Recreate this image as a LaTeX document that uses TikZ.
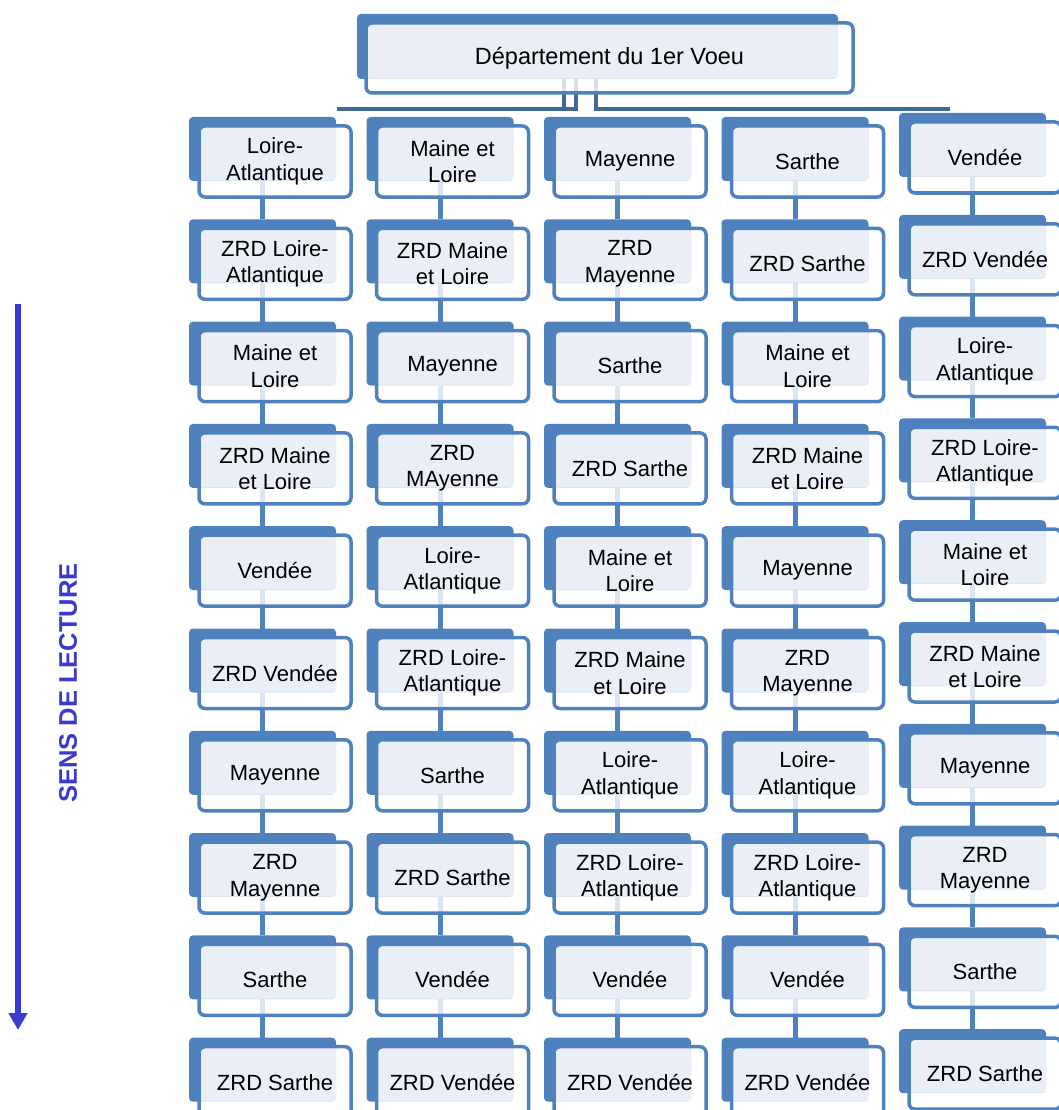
\documentclass[tikz,border=0pt]{standalone}
\usepackage{fontspec}
\setmainfont{Liberation Sans}
\usetikzlibrary{arrows.meta,backgrounds}
\definecolor{cacc}{RGB}{79,129,189}
\definecolor{ctint}{RGB}{150,175,215}
\definecolor{cbar}{RGB}{64,105,154}
\definecolor{cread}{RGB}{58,58,208}

% one department box: column, row, row pitch, text
\newcommand\deptcell[4]{%
  \pgfmathsetmacro\cellx{189+177.5*(#1-1)}%
  \pgfmathsetmacro\celly{(#1==5 ? 113 : 117)+#3*(#2-1)}%
  \node[deptback] (c#1-#2) at (\cellx,\celly) {};
  \node[depttint] (c#1-#2-tint) at (\cellx+11,\celly+10) {};
  \node[deptbox] (c#1-#2-box) at (\cellx+10,\celly+9) {#4};
  \ifnum#2>1
    \pgfmathtruncatemacro\prevrow{#2-1}%
    \begin{scope}[on background layer]
      \draw[deptlink] (c#1-\prevrow.south) -- (c#1-#2.north);
    \end{scope}
  \fi
}

\begin{document}
\begin{tikzpicture}[
    x=1pt, y=-1pt,
    deptback/.style={fill=cacc, rounded corners=4pt, anchor=north west, inner sep=0pt, outer sep=0pt,
                 minimum width=147pt, minimum height=64pt},
    depttint/.style={fill=ctint, rounded corners=3pt, anchor=north west, inner sep=0pt, outer sep=0pt,
                  minimum width=136pt, minimum height=53pt},
    deptbox/.style={draw=cacc, line width=3.5pt, rounded corners=6pt, anchor=north west,
                fill=white, fill opacity=0.8, text opacity=1,
                inner sep=0pt, outer sep=0pt, minimum width=152pt, minimum height=71pt,
                align=center, font=\fontsize{22}{26.5}\selectfont},
    deptlink/.style={draw=cacc, line width=5pt},
    deptbar/.style={draw=cbar, line width=4pt},
    >={Triangle[width=18pt,length=17pt]}
  ]
  \useasboundingbox (0,0) rectangle (1059,1110);

  % top level
  \node[deptback, minimum width=481pt, minimum height=65pt] (dept) at (357,14) {};
  \node[depttint, minimum width=470pt, minimum height=54pt] (dept-tint) at (368,24) {};
  \node[deptbox, minimum width=487pt, minimum height=70pt, font=\fontsize{23.5}{27}\selectfont] (dept-box) at (366,23) {Département du 1er Voeu};

  % column 1
  \deptcell{1}{1}{102.3}{Loire-\\Atlantique}
  \deptcell{1}{2}{102.3}{ZRD Loire-\\Atlantique}
  \deptcell{1}{3}{102.3}{Maine et\\Loire}
  \deptcell{1}{4}{102.3}{ZRD Maine\\et Loire}
  \deptcell{1}{5}{102.3}{Vendée}
  \deptcell{1}{6}{102.3}{ZRD Vendée}
  \deptcell{1}{7}{102.3}{Mayenne}
  \deptcell{1}{8}{102.3}{ZRD\\Mayenne}
  \deptcell{1}{9}{102.3}{Sarthe}
  \deptcell{1}{10}{102.3}{ZRD Sarthe}
  % column 2
  \deptcell{2}{1}{102.3}{Maine et\\Loire}
  \deptcell{2}{2}{102.3}{ZRD Maine\\et Loire}
  \deptcell{2}{3}{102.3}{Mayenne}
  \deptcell{2}{4}{102.3}{ZRD\\MAyenne}
  \deptcell{2}{5}{102.3}{Loire-\\Atlantique}
  \deptcell{2}{6}{102.3}{ZRD Loire-\\Atlantique}
  \deptcell{2}{7}{102.3}{Sarthe}
  \deptcell{2}{8}{102.3}{ZRD Sarthe}
  \deptcell{2}{9}{102.3}{Vendée}
  \deptcell{2}{10}{102.3}{ZRD Vendée}
  % column 3
  \deptcell{3}{1}{102.3}{Mayenne}
  \deptcell{3}{2}{102.3}{ZRD\\Mayenne}
  \deptcell{3}{3}{102.3}{Sarthe}
  \deptcell{3}{4}{102.3}{ZRD Sarthe}
  \deptcell{3}{5}{102.3}{Maine et\\Loire}
  \deptcell{3}{6}{102.3}{ZRD Maine\\et Loire}
  \deptcell{3}{7}{102.3}{Loire-\\Atlantique}
  \deptcell{3}{8}{102.3}{ZRD Loire-\\Atlantique}
  \deptcell{3}{9}{102.3}{Vendée}
  \deptcell{3}{10}{102.3}{ZRD Vendée}
  % column 4
  \deptcell{4}{1}{102.3}{Sarthe}
  \deptcell{4}{2}{102.3}{ZRD Sarthe}
  \deptcell{4}{3}{102.3}{Maine et\\Loire}
  \deptcell{4}{4}{102.3}{ZRD Maine\\et Loire}
  \deptcell{4}{5}{102.3}{Mayenne}
  \deptcell{4}{6}{102.3}{ZRD\\Mayenne}
  \deptcell{4}{7}{102.3}{Loire-\\Atlantique}
  \deptcell{4}{8}{102.3}{ZRD Loire-\\Atlantique}
  \deptcell{4}{9}{102.3}{Vendée}
  \deptcell{4}{10}{102.3}{ZRD Vendée}
  % column 5
  \deptcell{5}{1}{101.8}{Vendée}
  \deptcell{5}{2}{101.8}{ZRD Vendée}
  \deptcell{5}{3}{101.8}{Loire-\\Atlantique}
  \deptcell{5}{4}{101.8}{ZRD Loire-\\Atlantique}
  \deptcell{5}{5}{101.8}{Maine et\\Loire}
  \deptcell{5}{6}{101.8}{ZRD Maine\\et Loire}
  \deptcell{5}{7}{101.8}{Mayenne}
  \deptcell{5}{8}{101.8}{ZRD\\Mayenne}
  \deptcell{5}{9}{101.8}{Sarthe}
  \deptcell{5}{10}{101.8}{ZRD Sarthe}

  % connectors from the top box, behind the boxes
  \begin{scope}[on background layer]
    \coordinate (bar-l) at (337,109.5);
    \coordinate (bar-r) at (950,109.5);
    \coordinate (drop-1) at (564,109.5);
    \coordinate (drop-2) at (576,109.5);
    \coordinate (drop-3) at (596,109.5);
    \draw[deptbar] (bar-l) -- (drop-2) -- (drop-2 |- dept.south);
    \draw[deptbar] (drop-1) -- (drop-1 |- dept.south);
    \draw[deptbar] (drop-3 |- dept.south) -- (drop-3) -- (bar-r);
  \end{scope}

  % reading direction
  \node[rotate=90, text=cread, font=\bfseries\fontsize{25.5}{30}\selectfont] (reading) at (68,683) {SENS DE LECTURE};
  \coordinate (arrow-top) at (18,304);
  \coordinate (arrow-end) at (18,1030);
  \draw[->, line width=6.5pt, cread] (arrow-top) -- (arrow-end);
\end{tikzpicture}
\end{document}
